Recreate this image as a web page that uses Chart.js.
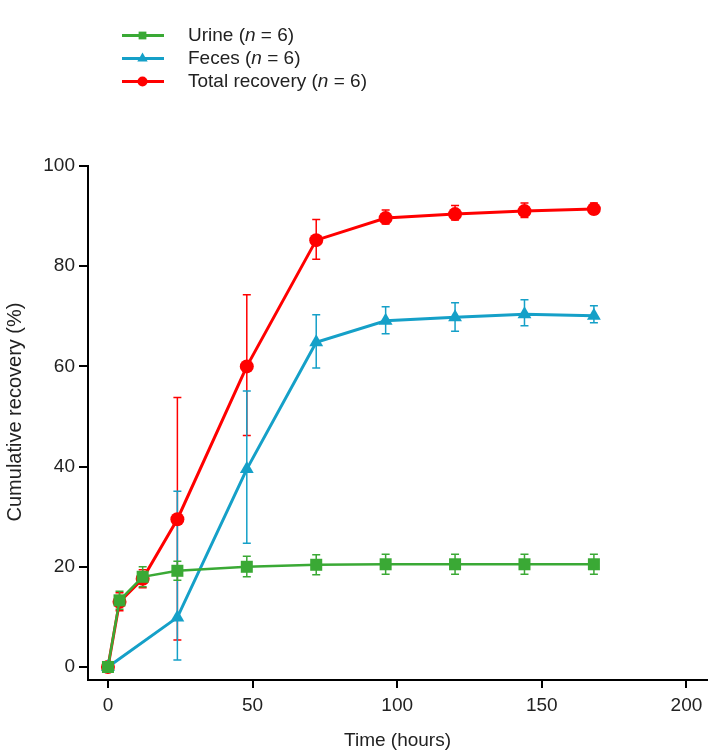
<!DOCTYPE html>
<html>
<head>
<meta charset="utf-8">
<script src="https://cdn.jsdelivr.net/npm/chart.js@4/dist/chart.umd.min.js"></script>
<style>
  html, body { margin: 0; padding: 0; background: #fff; }
  #wrap { width: 709px; height: 754px; }
</style>
</head>
<body>
<div id="wrap"><canvas id="grafico"></canvas></div>
<script>
// tiempos (horas)
const tiempos = [0, 4, 12, 24, 48, 72, 96, 120, 144, 168]

const orina = [0, 13.3, 18.0, 19.2, 20.0, 20.4, 20.5, 20.5, 20.5, 20.5]
const orinaErrArriba = [0, 1.8, 2.0, 1.9, 2.1, 2.0, 2.0, 2.0, 2.0, 2.0]
const orinaErrAbajo = [0, 1.8, 2.0, 1.9, 2.0, 2.0, 2.0, 2.0, 2.0, 2.0]

const heces = [0, null, null, 9.9, 39.5, 64.8, 69.1, 69.8, 70.4, 70.1]
const hecesErrArriba = [0, null, null, 25.2, 15.6, 5.5, 2.8, 2.9, 2.9, 2.0]
const hecesErrAbajo = [0, null, null, 8.5, 14.8, 5.1, 2.6, 2.8, 2.3, 1.4]

const total = [0, 13.0, 17.6, 29.5, 60.0, 85.2, 89.6, 90.4, 91.0, 91.4]
const totalErrArriba = [0, 1.8, 1.8, 24.3, 14.3, 4.1, 1.6, 1.7, 1.6, 1.2]
const totalErrAbajo = [0, 1.8, 1.8, 24.1, 13.8, 3.8, 1.2, 1.2, 1.3, 1.0]

const ticksX = [0, 50, 100, 150, 200]
const ticksY = [0, 20, 40, 60, 80, 100]

const etiquetas = ['Urine', 'Feces', 'Total recovery']
const tituloY = 'Cumulative recovery (%)'

const VERDE = '#3aa935'
const AZUL = '#15a0c8'
const ROJO = '#ff0000'
const FUENTE = "'Liberation Sans', Arial, sans-serif"

const puntos = (valores) => tiempos.map((t, i) => ({ x: t, y: valores[i] }))

const barrasError = {
  id: 'barrasError',
  beforeDatasetsDraw(chart) {
    const ctx = chart.ctx
    const sx = chart.scales.x
    const sy = chart.scales.y
    for (let d = chart.data.datasets.length - 1; d >= 0; d--) {
      const ds = chart.data.datasets[d]
      ctx.save()
      ctx.strokeStyle = ds.borderColor
      ctx.lineWidth = 1.5
      ds.data.forEach((p, j) => {
        if (p.y == null) return
        const arriba = ds.errArriba[j]
        const abajo = ds.errAbajo[j]
        if (!arriba && !abajo) return
        const px = sx.getPixelForValue(p.x)
        const y1 = sy.getPixelForValue(p.y + arriba)
        const y2 = sy.getPixelForValue(p.y - abajo)
        ctx.beginPath()
        ctx.moveTo(px, y1); ctx.lineTo(px, y2)
        ctx.moveTo(px - 4, y1); ctx.lineTo(px + 4, y1)
        ctx.moveTo(px - 4, y2); ctx.lineTo(px + 4, y2)
        ctx.stroke()
      })
      ctx.restore()
    }
  }
}

// leyenda con linea + marcador, como en la figura
const leyenda = {
  id: 'leyenda',
  afterDraw(chart) {
    const ctx = chart.ctx
    const filas = [35.5, 58.5, 81.5]
    const radios = [5.5, 6, 5]
    chart.data.datasets.forEach((ds, i) => {
      const y = filas[i]
      ctx.save()
      ctx.strokeStyle = ds.borderColor
      ctx.lineWidth = 3
      ctx.beginPath()
      ctx.moveTo(122, y); ctx.lineTo(164, y)
      ctx.stroke()
      ctx.fillStyle = ds.borderColor
      Chart.helpers.drawPoint(ctx, {
        pointStyle: ds.pointStyle, radius: radios[i], borderWidth: 0
      }, 142.5, y)
      ctx.fillStyle = '#222'
      ctx.textBaseline = 'middle'
      let x = 188
      const partes = [[etiquetas[i] + ' (', ''], ['n', 'italic '], [' = 6)', '']]
      partes.forEach(([txt, estilo]) => {
        ctx.font = estilo + '19px ' + FUENTE
        ctx.fillText(txt, x, y)
        x += ctx.measureText(txt).width
      })
      ctx.restore()
    })

    // titulo del eje y
    ctx.save()
    ctx.translate(15, 412)
    ctx.rotate(-Math.PI / 2)
    ctx.fillStyle = '#222'
    ctx.font = '20px ' + FUENTE
    ctx.textAlign = 'center'
    ctx.textBaseline = 'middle'
    ctx.fillText(tituloY, 0, 0)
    ctx.restore()
  }
}

const serie = (label, valores, arriba, abajo, color, estilo, radio, grosor) => ({
  label: label,
  data: puntos(valores),
  errArriba: arriba,
  errAbajo: abajo,
  borderColor: color,
  backgroundColor: color,
  borderWidth: grosor,
  pointStyle: estilo,
  pointRadius: radio,
  pointHoverRadius: radio,
  pointBorderWidth: 0,
  spanGaps: true,
  tension: 0,
})

new Chart(document.getElementById('grafico'), {
  type: 'line',
  data: {
    datasets: [
      serie(etiquetas[0], orina, orinaErrArriba, orinaErrAbajo, VERDE, 'rect', 8.5, 2.5),
      serie(etiquetas[1], heces, hecesErrArriba, hecesErrAbajo, AZUL, 'triangle', 8, 3),
      serie(etiquetas[2], total, totalErrArriba, totalErrAbajo, ROJO, 'circle', 7, 3),
    ],
  },
  options: {
    responsive: true,
    maintainAspectRatio: false,
    animation: false,
    layout: { autoPadding: false, padding: { top: 166, right: 2, left: 0, bottom: 0 } },
    plugins: { legend: { display: false }, tooltip: { enabled: false } },
    scales: {
      x: {
        type: 'linear',
        min: -6.9,
        max: 207.1,
        afterBuildTicks: (s) => { s.ticks = ticksX.map(v => ({ value: v })) },
        afterFit: (s) => { s.height = 74; s.paddingRight = 0; s.paddingLeft = 0 },
        border: { display: true, color: '#000', width: 2 },
        grid: { drawOnChartArea: false, drawTicks: true, tickLength: 8, color: '#000', lineWidth: 2 },
        ticks: { color: '#222', padding: 6, font: { family: FUENTE, size: 19 } },
        title: { display: true, text: 'Time (hours)', color: '#222', padding: { top: 4, bottom: 2 }, font: { family: FUENTE, size: 19 } },
      },
      y: {
        type: 'linear',
        min: -2.6,
        max: 100,
        afterBuildTicks: (s) => { s.ticks = ticksY.map(v => ({ value: v })) },
        afterFit: (s) => { s.width = 88 },
        border: { display: true, color: '#000', width: 2 },
        grid: { drawOnChartArea: false, drawTicks: true, tickLength: 9, color: '#000', lineWidth: 2 },
        ticks: { color: '#222', padding: 4, font: { family: FUENTE, size: 19 } },
      },
    },
  },
  plugins: [barrasError, leyenda],
})
</script>
</body>
</html>
